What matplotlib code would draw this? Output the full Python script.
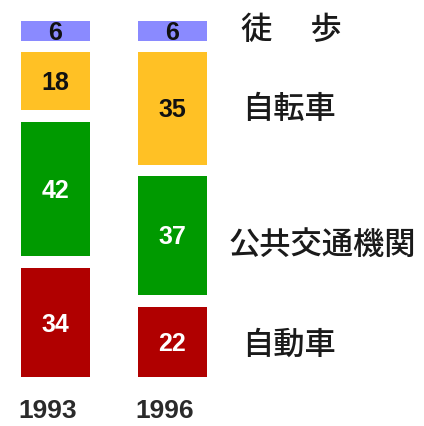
import matplotlib
matplotlib.use("Agg")
import matplotlib.pyplot as plt
import numpy as np

years = ["1993", "1996"]
modes = ["自動車", "公共交通機関", "自転車", "徒　 歩"]  # bottom -> top
share_1993 = [34, 42, 18, 6]
share_1996 = [22, 37, 35, 6]
colors = ["#b00000", "#009a00", "#ffc125", "#8a8aff"]
num_colors = ["white", "white", "#111111", "#111111"]

GAP = 3.7          # white gap between stacked segments (data units)
WIDTH = 0.585

fig = plt.figure(figsize=(4.24, 4.26), dpi=100)
ax = fig.add_axes([0, 0, 1, 1])
ax.set_xlim(-0.474, 3.15)
ax.set_ylim(-15.3, 117.8)
ax.axis("off")

data = np.array([share_1993, share_1996])
centers_1996 = []
for i, vals in enumerate(data):
    bottom = 0.0
    for j, v in enumerate(vals):
        ax.bar(i, v, WIDTH, bottom=bottom, color=colors[j], linewidth=0)
        ax.text(i, bottom + v / 2 - 0.6, str(v), ha="center", va="center",
                fontsize=18, fontweight="bold", color=num_colors[j],
                family="Liberation Sans")
        if i == 1:
            centers_1996.append(bottom + v / 2)
        bottom += v + GAP
    ax.text(i - 0.065, -10.5, years[i], ha="center", va="center",
            fontsize=19, fontweight="bold", color="#2a2a2a",
            family="Liberation Sans")

# category labels to the right of the 1996 bar
label_x = [0.571, 0.538, 0.571, 0.569]
label_dy = [-1.0, -2.8, 0.0, 0.5]
for j, name in enumerate(modes):
    ax.text(label_x[j], centers_1996[j] + label_dy[j], name,
            transform=ax.get_yaxis_transform(), ha="left", va="center",
            fontsize=22.5, fontweight="medium", color="#1a1a1a",
            family=["Noto Sans CJK JP", "DejaVu Sans"])

fig.savefig("out.png", dpi=100)
